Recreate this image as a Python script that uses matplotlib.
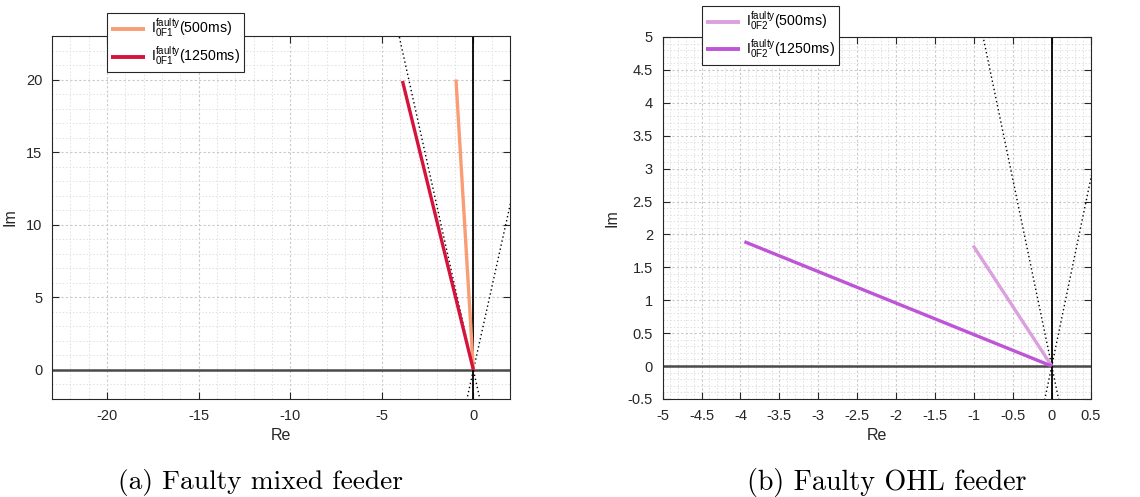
import numpy as np
import matplotlib
matplotlib.use("Agg")
import matplotlib.pyplot as plt
import matplotlib.ticker as ticker

# Data: phasor tips of the zero-sequence currents (Re, Im)
mixed_500_re = [0, -0.95]
mixed_500_im = [0, 20.0]
mixed_1250_re = [0, -3.87]
mixed_1250_im = [0, 19.9]

ohl_500_re = [0, -1.01]
ohl_500_im = [0, 1.83]
ohl_1250_re = [0, -3.95]
ohl_1250_im = [0, 1.89]

# Angular limits of the directional characteristic (deg)
limit_angles = [80, 100]

plt.rcParams['font.family'] = ['Liberation Sans', 'DejaVu Sans']
plt.rcParams['mathtext.fontset'] = 'custom'
plt.rcParams['mathtext.rm'] = 'Liberation Sans'
plt.rcParams['mathtext.it'] = 'Liberation Sans'
plt.rcParams['mathtext.default'] = 'regular'

fig = plt.figure(figsize=(11.4, 4.97), dpi=100)
ax1 = fig.add_axes([0.0456, 0.1972, 0.4018, 0.7304])
ax2 = fig.add_axes([0.5813, 0.1972, 0.3754, 0.7284])


def style_axes(ax, xlim, ylim, major, minor):
    ax.set_xlim(xlim)
    ax.set_ylim(ylim)
    ax.xaxis.set_major_locator(ticker.MultipleLocator(major[0]))
    ax.yaxis.set_major_locator(ticker.MultipleLocator(major[1]))
    ax.xaxis.set_minor_locator(ticker.MultipleLocator(minor[0]))
    ax.yaxis.set_minor_locator(ticker.MultipleLocator(minor[1]))
    ax.xaxis.set_major_formatter(ticker.FuncFormatter(lambda v, p: '%g' % v))
    ax.yaxis.set_major_formatter(ticker.FuncFormatter(lambda v, p: '%g' % v))
    ax.grid(which='major', color='#c8c8c8', linestyle=(0, (2, 2)), linewidth=0.8)
    ax.grid(which='minor', color='#e0e0e0', linestyle=(0, (1.5, 2)), linewidth=0.7)
    ax.set_axisbelow(True)
    ax.tick_params(which='major', direction='in', top=True, right=True, length=5,
                   width=0.8, color='#262626', labelcolor='#262626', labelsize=10.5, pad=7)
    ax.tick_params(which='minor', length=0)
    for s in ax.spines.values():
        s.set_color('#262626')
        s.set_linewidth(0.8)
    ax.axhline(0, color='#4a4a4a', linewidth=1.8, zorder=2)
    ax.axvline(0, color='black', linewidth=1.3, zorder=2)
    for a in limit_angles:
        r = 100
        t = np.deg2rad(a)
        ax.plot([-r * np.cos(t), r * np.cos(t)], [-r * np.sin(t), r * np.sin(t)],
                color='black', linestyle=(0, (1, 2)), linewidth=1.0, zorder=2)
    ax.set_xlabel('Re', fontsize=11.5, color='#262626', labelpad=4)
    ax.set_ylabel('Im', fontsize=11.5, color='#262626', labelpad=6)


def add_legend(ax, anchor):
    leg = ax.legend(loc='upper left', bbox_to_anchor=anchor, bbox_transform=fig.transFigure,
                    borderaxespad=0, fontsize=10.2, frameon=True, fancybox=False,
                    edgecolor='#262626', framealpha=1, handlelength=2.4, handletextpad=0.4,
                    borderpad=0.3, labelspacing=0.3)
    leg.get_frame().set_linewidth(0.8)
    for line in leg.get_lines():
        line.set_linewidth(2.8)
    return leg


# (a) mixed feeder
style_axes(ax1, (-23, 2), (-2, 23), (5, 5), (1, 1))
ax1.plot(mixed_500_re, mixed_500_im, color='#FA9D74', linewidth=2.4, zorder=3,
         solid_capstyle='butt', label=r'$I_{0F1}^{faulty}$(500ms)')
ax1.plot(mixed_1250_re, mixed_1250_im, color='#D4143C', linewidth=2.4, zorder=3,
         solid_capstyle='butt', label=r'$I_{0F1}^{faulty}$(1250ms)')
add_legend(ax1, (0.0939, 0.9738))

# (b) OHL feeder
style_axes(ax2, (-5, 0.5), (-0.5, 5), (0.5, 0.5), (0.1, 0.1))
ax2.plot(ohl_500_re, ohl_500_im, color='#DDA0DF', linewidth=2.4, zorder=3,
         solid_capstyle='butt', label=r'$I_{0F2}^{faulty}$(500ms)')
ax2.plot(ohl_1250_re, ohl_1250_im, color='#BE55D6', linewidth=2.4, zorder=3,
         solid_capstyle='butt', label=r'$I_{0F2}^{faulty}$(1250ms)')
add_legend(ax2, (0.6158, 0.9885))

# sub-figure captions
fig.text(0.2285, 0.03, '(a) Faulty mixed feeder', ha='center', va='center',
         fontsize=19.8, family=['cmr10', 'DejaVu Serif'])
fig.text(0.778, 0.03, '(b) Faulty OHL feeder', ha='center', va='center',
         fontsize=20.2, family=['cmr10', 'DejaVu Serif'])

fig.savefig('out.png', dpi=100)
